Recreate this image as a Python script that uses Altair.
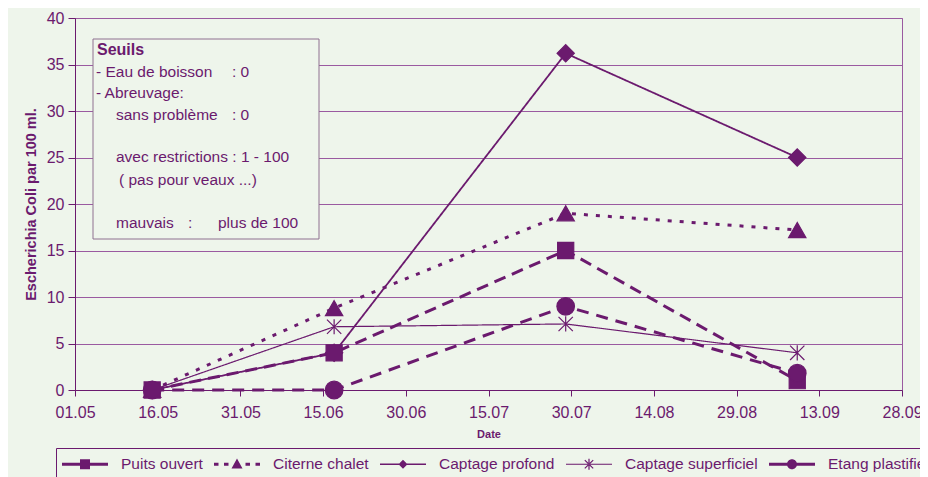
import altair as alt
import pandas as pd

# ---------------- data ----------------
series = ["Puits ouvert", "Citerne chalet", "Captage profond",
          "Captage superficiel", "Etang plastifié"]
sample_dates = ["2001-05-15", "2001-06-17", "2001-07-29", "2001-09-09"]
puits_ouvert = [0, 4, 15, 1]
citerne_chalet = [0, 8.8, 19, 17.2]
captage_profond = [0, 4, 36.2, 25]
captage_superficiel = [0, 6.8, 7.1, 4]
etang_plastifie = [0, 0, 9, 1.8]

x_tick_dates = [(5, 1), (5, 16), (5, 31), (6, 15), (6, 30), (7, 15),
                (7, 30), (8, 14), (8, 29), (9, 13), (9, 28)]
y_ticks = [0, 5, 10, 15, 20, 25, 30, 35, 40]

box_title = "Seuils"
box_texts = ["- Eau de boisson", ": 0", "- Abreuvage:", "sans problème", ": 0",
             "avec restrictions : 1 - 100", "( pas pour veaux ...)",
             "mauvais", ":", "plus de  100"]

# ---------------- styles ----------------
purple = "#6b1a6e"
gridc = "#9a5aa0"
bg = "#eef5eb"
boxc = "#8f7190"
FONT = "Liberation Sans"

draw_order = ["Captage profond", "Citerne chalet", "Captage superficiel",
              "Puits ouvert", "Etang plastifié"]
star = "M0,-0.85V0.85M-0.8,-0.8L0.8,0.8M-0.8,0.8L0.8,-0.8"
shapes = ["square", "triangle-up", "diamond", star, "circle"]
sizes = [260, 300, 300, 320, 310]
dashes = [[12, 7], [4, 8], [1, 0], [1, 0], [12, 8]]
widths = [3, 3, 1.8, 1.2, 3]


# ---- legend symbols drawn as filled geometry (unit = 10 px) ----
X0, X1, C = -1.0, 3.6, 1.3


def rect(a, b, h):
    return f"M{a:.3f},{-h / 2:.3f}H{b:.3f}V{h / 2:.3f}H{a:.3f}Z"


def seg(x1, y1, x2, y2, w):
    dx, dy = x2 - x1, y2 - y1
    ln = (dx * dx + dy * dy) ** 0.5
    nx, ny = -dy / ln * w / 2, dx / ln * w / 2
    pts = [(x1 + nx, y1 + ny), (x2 + nx, y2 + ny), (x2 - nx, y2 - ny), (x1 - nx, y1 - ny)]
    return "M" + "L".join(f"{px:.3f},{py:.3f}" for px, py in pts) + "Z"


def solid_stub(h, gap):
    return rect(X0, C - gap, h) + rect(C + gap, X1, h)


def dashed_stub(h, gap, dash=0.45, space=0.55):
    out = ""
    a = X0
    while a < C - gap - 0.05:
        out += rect(a, min(a + dash, C - gap), h)
        a += dash + space
    b = X1
    while b > C + gap + 0.05:
        out += rect(max(b - dash, C + gap), b, h)
        b -= dash + space
    return out


sq = f"M{C - 0.5},-0.5H{C + 0.5}V0.5H{C - 0.5}Z"
tri = f"M{C},-0.58L{C + 0.55},0.42H{C - 0.55}Z"
dia = f"M{C},-0.45L{C + 0.45},0L{C},0.45L{C - 0.45},0Z"
r = 0.5
circ = f"M{C + r},0A{r},{r},0,1,1,{C - r},0A{r},{r},0,1,1,{C + r},0Z"
st = (seg(C - 0.42, -0.42, C + 0.42, 0.42, 0.12) + seg(C - 0.42, 0.42, C + 0.42, -0.42, 0.12)
      + seg(C, -0.55, C, 0.55, 0.12))

legend_paths = [
    solid_stub(0.28, 0.5) + sq,
    dashed_stub(0.28, 0.6) + tri,
    solid_stub(0.16, 0.4) + dia,
    rect(X0, X1, 0.12) + st,
    solid_stub(0.28, 0.45) + circ,
]

rows = []
for name, vals in zip(series, [puits_ouvert, citerne_chalet, captage_profond,
                               captage_superficiel, etang_plastifie]):
    for d, v in zip(sample_dates, vals):
        rows.append({"series": name, "date": d, "value": v,
                     "z": draw_order.index(name)})
df = pd.DataFrame(rows)

x_enc = alt.X(
    "date:T",
    scale=alt.Scale(type="utc", domain=[
        alt.DateTime(year=2001, month=5, date=1, utc=True),
        alt.DateTime(year=2001, month=9, date=28, utc=True)]),
    axis=alt.Axis(
        values=[alt.DateTime(year=2001, month=m, date=d, utc=True) for m, d in x_tick_dates],
        labelExpr="utcFormat(datum.value, '%d.%m')",
        title="Date", grid=False, labelFontSize=16, tickSize=6,
        labelPadding=8, titleFontSize=11, titleFontWeight="bold",
        titlePadding=8, labelFlush=False, labelOverlap=False),
)
y_enc = alt.Y(
    "value:Q",
    scale=alt.Scale(domain=[0, 40], nice=False),
    axis=alt.Axis(values=y_ticks, title="Escherichia Coli par 100 ml.",
                  grid=True, gridColor=gridc, gridWidth=1, gridOpacity=1,
                  labelFontSize=16, tickSize=7, labelPadding=4,
                  titleFontSize=14.5, titleFontWeight="bold", titlePadding=8),
)

base = alt.Chart(df)

lines = base.mark_line(color=purple).encode(
    x=x_enc, y=y_enc,
    detail="series:N",
    order=alt.Order("date:T"),
    strokeDash=alt.StrokeDash("series:N", scale=alt.Scale(domain=series, range=dashes), legend=None),
    strokeWidth=alt.StrokeWidth("series:N", scale=alt.Scale(type="ordinal", domain=series, range=widths),
                                legend=None),
)

points = base.mark_point(filled=True, color=purple, stroke=purple,
                         strokeWidth=1.2, opacity=1).encode(
    x=x_enc, y=y_enc,
    shape=alt.Shape("series:N", scale=alt.Scale(domain=series, range=shapes), legend=None),
    size=alt.Size("series:N", scale=alt.Scale(type="ordinal", domain=series, range=sizes), legend=None),
    order=alt.Order("z:Q"),
)

legend = alt.Legend(
    title=None, orient="none", legendX=-19, legendY=430,
    direction="horizontal", columns=5, symbolSize=400,
    labelFontSize=15.5, labelColor=purple, labelFont=FONT, labelOffset=39,
    strokeColor=purple, padding=6, columnPadding=11,
    symbolFillColor=purple, symbolStrokeColor=purple, symbolStrokeWidth=0,
    symbolOpacity=1,
)

# invisible layer that only carries the legend symbols (line + marker)
legend_layer = base.mark_point(filled=True, color=purple, opacity=0, size=400).encode(
    x=x_enc, y=y_enc,
    shape=alt.Shape("series:N", scale=alt.Scale(domain=series, range=legend_paths), legend=legend),
)

one = pd.DataFrame({"a": [0]})
box = alt.Chart(one).mark_rect(fill=bg, stroke=boxc, strokeWidth=1).encode(
    x=alt.value(18), x2=alt.value(244), y=alt.value(21), y2=alt.value(221))

text_layers = [
    alt.Chart(one).mark_text(text=box_title, font=FONT, fontSize=16, fontWeight="bold",
                             color=purple, align="left", baseline="middle")
    .encode(x=alt.value(22), y=alt.value(32))
]
text_pos = [(21, 54), (157, 54), (21, 75), (41, 97), (157, 97),
            (41, 139), (44, 162), (41, 205), (113, 205), (143, 205)]
for t, (px, py) in zip(box_texts, text_pos):
    text_layers.append(
        alt.Chart(one).mark_text(text=t, font=FONT, fontSize=15.5, color=purple,
                                 align="left", baseline="middle")
        .encode(x=alt.value(px), y=alt.value(py)))

chart = alt.layer(lines, points, legend_layer, box, *text_layers).resolve_scale(
    shape="independent", size="independent",
).properties(
    width=827, height=372,
    padding={"left": 67, "top": 10, "right": 18, "bottom": 87},
    autosize=alt.AutoSizeParams(type="none"),
    background=bg,
).configure_view(stroke=gridc, strokeWidth=1).configure_axis(
    domainColor=purple, tickColor=purple, labelColor=purple,
    titleColor=purple, labelFont=FONT, titleFont=FONT,
)

chart.save("out.html", embed_options={"renderer": "svg", "actions": False})
